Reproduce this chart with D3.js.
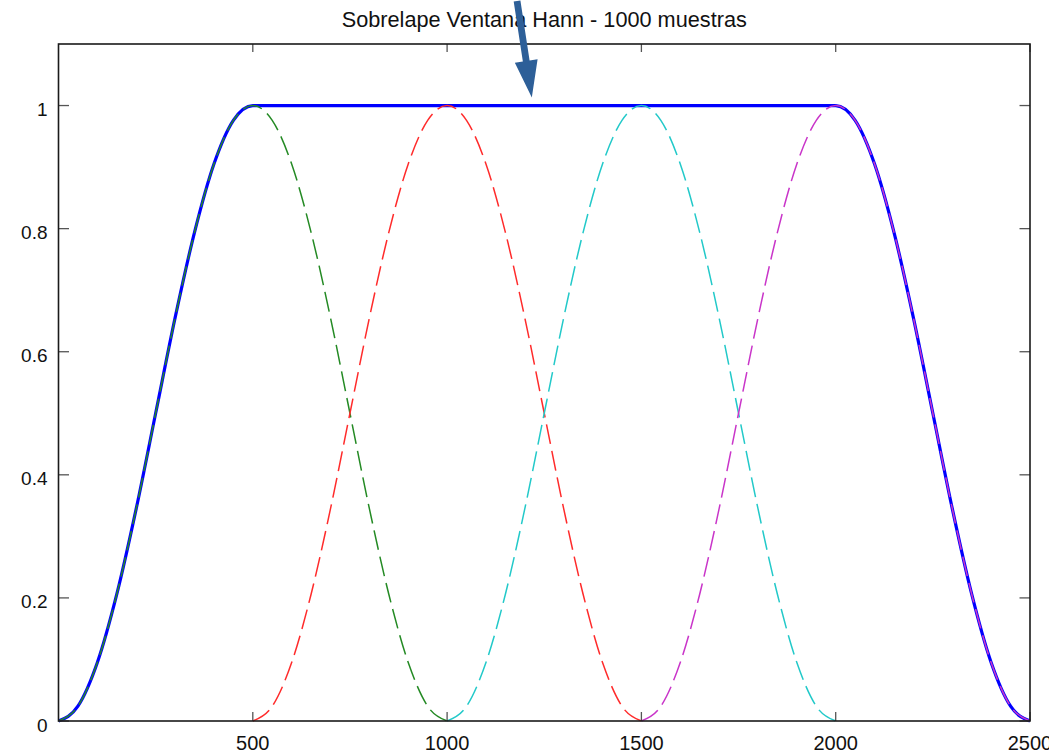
<!DOCTYPE html>
<html>
<head>
<meta charset="utf-8">
<script src="https://cdn.jsdelivr.net/npm/d3@7"></script>
<style>
  body { margin: 0; background: #fff; overflow: hidden; }
  svg { display: block; font-family: "Liberation Sans", Arial, sans-serif; }
</style>
</head>
<body>
<div id="chart"></div>
<script>
// --- data ---
const title = "Sobrelape Ventana Hann - 1000 muestras";

// one Hann window of 1000 samples, read every 50 samples
const windowOffsets = [0, 50, 100, 150, 200, 250, 300, 350, 400, 450, 500,
                       550, 600, 650, 700, 750, 800, 850, 900, 950, 1000];
const windowShape   = [0, 0.024, 0.095, 0.206, 0.345, 0.5, 0.655, 0.794, 0.905, 0.976, 1,
                       0.976, 0.905, 0.794, 0.655, 0.5, 0.345, 0.206, 0.095, 0.024, 0];

// 50% overlap: each window starts 500 samples after the previous one
const windowStarts = [0, 500, 1000, 1500];
const windowColors = ["#248a24", "#ff2b2b", "#22c9c9", "#c935c9"];

const xTicks = [500, 1000, 1500, 2000, 2500];
const yTicks = [0, 0.2, 0.4, 0.6, 0.8, 1];

// arrow annotation, data coords [tail, tip]
const arrowTail = [1180, 1.17];
const arrowTip  = [1218, 1.013];

// --- layout ---
const W = 1049, H = 754;
const mLeft = 58.5, mRight = 1030, mTop = 44, mBottom = 721;

const x = d3.scaleLinear().domain([0, 2500]).range([mLeft, mRight]);
const y = d3.scaleLinear().domain([0, 1.1]).range([mBottom, mTop]);

const svg = d3.select("#chart").append("svg").attr("width", W).attr("height", H);

// series built from the arrays
const windows = windowStarts.map((s, i) => ({
  color: windowColors[i],
  points: windowOffsets.map((o, j) => [s + o, windowShape[j]])
}));

// overlap sum (blue), added up on the same 50-sample grid
const sumX = d3.range(0, 2501, 50);
const sumPoints = sumX.map(t => [t, d3.sum(windows, w => {
  const p = w.points.find(q => q[0] === t);
  return p ? p[1] : 0;
})]);

const line = d3.line().x(d => x(d[0])).y(d => y(d[1])).curve(d3.curveMonotoneX);

// title
svg.append("text")
   .attr("x", (mLeft + mRight) / 2).attr("y", 27)
   .attr("text-anchor", "middle")
   .style("font-size", "21.7px").style("fill", "#111")
   .text(title);

// sum line first, dashed windows on top
svg.append("path")
   .attr("d", line(sumPoints))
   .attr("fill", "none").attr("stroke", "#0000ff").attr("stroke-width", 3.2)
   .attr("stroke-linejoin", "round");

svg.selectAll(".win").data(windows).enter()
   .append("path")
   .attr("class", "win")
   .attr("d", d => line(d.points))
   .attr("fill", "none")
   .attr("stroke", d => d.color)
   .attr("stroke-width", 1.5)
   .attr("stroke-dasharray", "20,7");

// ticks (inward, on all four sides)
const tickG = svg.append("g").attr("stroke", "#555").attr("stroke-width", 1.3);
xTicks.forEach(t => {
  tickG.append("line").attr("x1", x(t)).attr("x2", x(t)).attr("y1", mBottom).attr("y2", mBottom - 9);
  tickG.append("line").attr("x1", x(t)).attr("x2", x(t)).attr("y1", mTop).attr("y2", mTop + 8);
});
yTicks.forEach(t => {
  tickG.append("line").attr("x1", mLeft).attr("x2", mLeft + 10.5).attr("y1", y(t)).attr("y2", y(t));
  tickG.append("line").attr("x1", mRight).attr("x2", mRight - 10.5).attr("y1", y(t)).attr("y2", y(t));
});

// axes box
svg.append("rect")
   .attr("x", mLeft).attr("y", mTop)
   .attr("width", mRight - mLeft).attr("height", mBottom - mTop)
   .attr("fill", "none").attr("stroke", "#1a1a1a").attr("stroke-width", 1.6);

// tick labels
svg.selectAll(".xl").data(xTicks).enter()
   .append("text").attr("class", "xl")
   .attr("x", d => x(d)).attr("y", 750)
   .attr("text-anchor", "middle")
   .style("font-size", "20px").style("fill", "#111")
   .text(d => d);

svg.selectAll(".yl").data(yTicks).enter()
   .append("text").attr("class", "yl")
   .attr("x", 47.5).attr("y", d => y(d) + 10.5)
   .attr("text-anchor", "end")
   .style("font-size", "19px").style("fill", "#111")
   .text(d => d3.format("")(d));

// arrow
const tx = x(arrowTail[0]), ty = y(arrowTail[1]);
const hx = x(arrowTip[0]),  hy = y(arrowTip[1]);
const len = Math.hypot(hx - tx, hy - ty);
const ux = (hx - tx) / len, uy = (hy - ty) / len;
const px = -uy, py = ux;
const headLen = 37, headHalf = 11.5, shaftHalf = 3.4;
const bx = hx - ux * headLen, by = hy - uy * headLen;
const arrowPts = [
  [tx + px * shaftHalf, ty + py * shaftHalf],
  [bx + px * shaftHalf, by + py * shaftHalf],
  [bx + px * headHalf,  by + py * headHalf],
  [hx, hy],
  [bx - px * headHalf,  by - py * headHalf],
  [bx - px * shaftHalf, by - py * shaftHalf],
  [tx - px * shaftHalf, ty - py * shaftHalf]
];
svg.append("path")
   .attr("d", "M" + arrowPts.map(p => p.join(",")).join("L") + "Z")
   .attr("fill", "#2d5f98");
</script>
</body>
</html>
